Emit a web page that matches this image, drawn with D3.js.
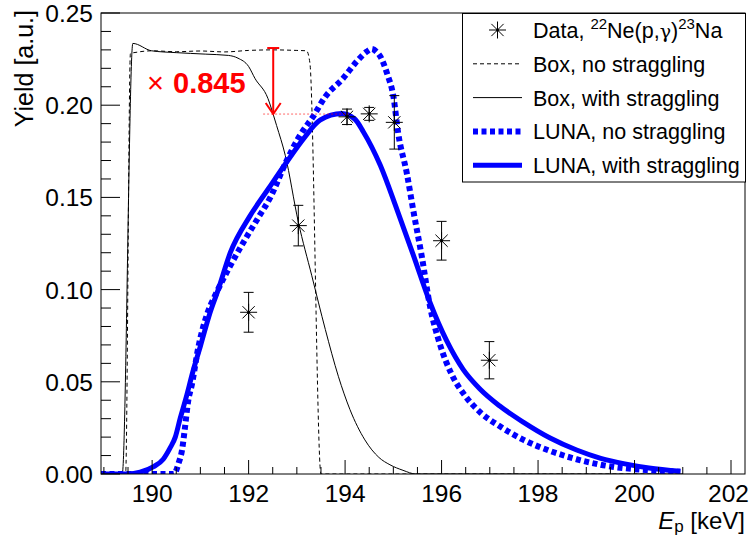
<!DOCTYPE html>
<html>
<head>
<meta charset="utf-8">
<script src="https://cdn.jsdelivr.net/npm/d3@7"></script>
<style>
  html, body { margin: 0; padding: 0; background: #fff; }
  svg { display: block; font-family: "Liberation Sans", Arial, Helvetica, sans-serif; }
</style>
</head>
<body>
<svg id="chart" width="750" height="537"></svg>
<script>
// Measured yield of 22Ne(p,gamma)23Na vs proton energy
const dataE   = [192.0, 193.03, 194.04, 194.5, 195.02, 196.0, 196.99];
const dataY   = [0.0877, 0.1347, 0.1937, 0.1953, 0.1907, 0.1265, 0.0617];
const dataErr = [0.0108, 0.0110, 0.0042, 0.0035, 0.0145, 0.0105, 0.0101];

// Box target profile, no straggling
const boxNoStrE = [188.94, 189.45, 189.55, 189.7, 190.0, 190.5, 191.0, 191.5, 192.0, 192.5, 193.0, 193.2, 193.27, 193.5, 201.0];
const boxNoStrY = [0, 0, 0.2280, 0.2288, 0.2295, 0.2290, 0.2294, 0.2289, 0.2297, 0.2300, 0.2297, 0.2295, 0.2230, 0, 0];

// Box target profile, with straggling
const boxStrE = [188.94, 189.38, 189.60, 189.99, 190.5, 191.10, 191.58, 191.78, 192.0, 192.13, 192.40, 192.51, 192.58, 192.76, 193.03, 193.31, 193.59, 193.86, 194.1, 194.41, 194.7, 194.93, 195.2, 195.47, 201.0];
const boxStrY = [0, 0, 0.2335, 0.2295, 0.2285, 0.2277, 0.2270, 0.2255, 0.2210, 0.2146, 0.2037, 0.1950, 0.1890, 0.1728, 0.1367, 0.1075, 0.0784, 0.0530, 0.0350, 0.0185, 0.0090, 0.0050, 0.0020, 0, 0];

// LUNA target profile, no straggling
const lunaNoStrE = [188.94, 190.45, 190.55, 190.62, 190.68, 190.75, 190.82, 190.96, 191.15, 191.31, 191.6, 191.9, 192.2, 192.45, 192.79, 193.05, 193.34, 193.59, 193.96, 194.24, 194.45, 194.55, 194.65, 194.73, 194.88, 195.0, 195.1, 195.28, 195.42, 195.59, 195.76, 195.97, 196.21, 196.5, 196.8, 197.2, 197.7, 198.25, 198.8, 199.3, 200.3, 200.95];
const lunaNoStrY = [0, 0, 0.006, 0.013, 0.025, 0.040, 0.048, 0.069, 0.0875, 0.097, 0.112, 0.126, 0.139, 0.150, 0.170, 0.183, 0.194, 0.2046, 0.2146, 0.2237, 0.2291, 0.2305, 0.2290, 0.2264, 0.2164, 0.2050, 0.1850, 0.1630, 0.1420, 0.1180, 0.0910, 0.0700, 0.0540, 0.0420, 0.0335, 0.0260, 0.0185, 0.0125, 0.0080, 0.0050, 0.0020, 0.0012];

// LUNA target profile, with straggling
const lunaStrE = [188.94, 189.5, 189.75, 190.03, 190.23, 190.37, 190.48, 190.58, 190.7, 190.85, 191.0, 191.2, 191.37, 191.62, 192.03, 192.41, 192.79, 193.14, 193.48, 193.93, 194.2, 194.38, 194.73, 195.07, 195.42, 195.76, 196.11, 196.45, 196.8, 197.2, 197.7, 198.25, 198.8, 199.3, 199.8, 200.3, 200.95];
const lunaStrY = [0, 0, 0.001, 0.004, 0.008, 0.014, 0.020, 0.030, 0.041, 0.056, 0.0693, 0.0875, 0.100, 0.120, 0.140, 0.1547, 0.1692, 0.1819, 0.1919, 0.1955, 0.1925, 0.1855, 0.1674, 0.1438, 0.1183, 0.0930, 0.0720, 0.0566, 0.0460, 0.0370, 0.0280, 0.0195, 0.0130, 0.0085, 0.0055, 0.0033, 0.0015];

// Scaling annotation
const boxPlateau = 0.231;
const scaleFactor = 0.845;
const arrowE = 192.51;
const guideE = [192.3, 194.07];

const xTicksMajor = [190, 192, 194, 196, 198, 200, 202];
const yTicksMajor = [0, 0.05, 0.10, 0.15, 0.20, 0.25];

const legendLabels = ["Data", "Box, no straggling", "Box, with straggling", "LUNA, no straggling", "LUNA, with straggling"];

const BLUE = "#0000ff", RED = "#ff0000";

const svg = d3.select("#chart");
const x = d3.scaleLinear().domain([188.94, 202.29]).range([101, 745]);
const y = d3.scaleLinear().domain([0, 0.25]).range([474, 13]);

// clip region = frame
svg.append("defs").append("clipPath").attr("id", "frame")
  .append("rect").attr("x", 101).attr("y", 13).attr("width", 644).attr("height", 461);

const plot = svg.append("g").attr("clip-path", "url(#frame)");
const zip = (E, Y) => E.map((e, i) => [e, Y[i]]);
const line = d3.line().x(d => x(d[0])).y(d => y(d[1])).curve(d3.curveMonotoneX);

plot.append("path").datum(zip(boxNoStrE, boxNoStrY)).attr("d", line)
  .attr("fill", "none").attr("stroke", "#000").attr("stroke-width", 1).attr("stroke-dasharray", "4,3");
plot.append("path").datum(zip(boxStrE, boxStrY)).attr("d", line)
  .attr("fill", "none").attr("stroke", "#000").attr("stroke-width", 1);
plot.append("path").datum(zip(lunaNoStrE, lunaNoStrY)).attr("d", line)
  .attr("fill", "none").attr("stroke", BLUE).attr("stroke-width", 6).attr("stroke-dasharray", "5,3.5");
plot.append("path").datum(zip(lunaStrE, lunaStrY)).attr("d", line)
  .attr("fill", "none").attr("stroke", BLUE).attr("stroke-width", 5);

// axes frame and ticks
const axes = svg.append("g").attr("stroke", "#000").attr("fill", "none");
axes.append("rect").attr("x", 101).attr("y", 13).attr("width", 644).attr("height", 461).attr("stroke-width", 1);

const xMinor = d3.range(189, 202.3, 0.5);
xMinor.forEach(v => {
  const major = xTicksMajor.includes(v);
  axes.append("line").attr("x1", x(v)).attr("x2", x(v)).attr("y1", 474).attr("y2", 474 - (major ? 14 : 7));
});
const yMinor = d3.range(0, 0.2501, 0.01);
yMinor.forEach(v => {
  const major = Math.abs(v * 20 - Math.round(v * 20)) < 1e-6;
  axes.append("line").attr("x1", 101).attr("x2", 101 + (major ? 19 : 10)).attr("y1", y(v)).attr("y2", y(v));
});

const labels = svg.append("g").attr("fill", "#000").attr("font-size", 24.5);
xTicksMajor.forEach((v, i) => {
  const last = i === xTicksMajor.length - 1;
  labels.append("text").attr("x", last ? 749 : x(v)).attr("y", 502)
    .attr("text-anchor", last ? "end" : "middle").text(v);
});
yTicksMajor.forEach(v => {
  labels.append("text").attr("x", 93).attr("y", y(v) + 9).attr("text-anchor", "end").text(v.toFixed(2));
});

// axis titles
svg.append("text").attr("transform", "translate(33,10) rotate(-90)").attr("text-anchor", "end")
  .attr("font-size", 25).text("Yield [a.u.]");
const xt = svg.append("text").attr("x", 745).attr("y", 529).attr("text-anchor", "end").attr("font-size", 24);
xt.append("tspan").attr("font-style", "italic").text("E");
xt.append("tspan").attr("font-size", 17).attr("dy", 3).text("p");
xt.append("tspan").attr("dy", -3).text(" [keV]");

// error bars and markers
const pts = svg.append("g").attr("stroke", "#000").attr("stroke-width", 1);
dataE.forEach((e, i) => {
  const cx = x(e), cy = y(dataY[i]);
  const yt = y(dataY[i] + dataErr[i]), yb = y(dataY[i] - dataErr[i]);
  pts.append("line").attr("x1", cx).attr("x2", cx).attr("y1", yt).attr("y2", yb);
  pts.append("line").attr("x1", cx - 5).attr("x2", cx + 5).attr("y1", yt).attr("y2", yt);
  pts.append("line").attr("x1", cx - 5).attr("x2", cx + 5).attr("y1", yb).attr("y2", yb);
});
function star(g, cx, cy, r) {
  const d = r * 0.72;
  g.append("path").attr("d",
    `M${cx - r},${cy}L${cx + r},${cy}M${cx},${cy - r}L${cx},${cy + r}` +
    `M${cx - d},${cy - d}L${cx + d},${cy + d}M${cx - d},${cy + d}L${cx + d},${cy - d}`)
    .attr("stroke", "#000").attr("stroke-width", 1).attr("fill", "none");
  g.append("circle").attr("cx", cx).attr("cy", cy).attr("r", 1.5).attr("fill", "#000").attr("stroke", "none");
}
dataE.forEach((e, i) => star(pts, x(e), y(dataY[i]), 8.5));

// scaling annotation
const ann = svg.append("g");
const yTop = y(boxPlateau), yTip = y(boxPlateau * scaleFactor), ax = x(arrowE);
ann.append("line").attr("x1", x(guideE[0])).attr("x2", x(guideE[1])).attr("y1", yTip).attr("y2", yTip)
  .attr("stroke", RED).attr("stroke-opacity", 0.6).attr("stroke-width", 1).attr("stroke-dasharray", "2,2");
ann.append("line").attr("x1", ax - 6).attr("x2", ax + 6).attr("y1", yTop).attr("y2", yTop)
  .attr("stroke", RED).attr("stroke-width", 2);
ann.append("line").attr("x1", ax).attr("x2", ax).attr("y1", yTop).attr("y2", yTip)
  .attr("stroke", RED).attr("stroke-width", 2);
ann.append("path").attr("d", `M${ax - 7.5},${yTip - 11}L${ax},${yTip}L${ax + 7.5},${yTip - 11}`)
  .attr("stroke", RED).attr("stroke-width", 2).attr("fill", "none");
ann.append("text").attr("x", 147).attr("y", 93).attr("fill", RED).attr("font-size", 29).text("\u00d7");
ann.append("text").attr("x", 173).attr("y", 93).attr("fill", RED).attr("font-size", 29)
  .attr("font-weight", "bold").text(scaleFactor.toFixed(3));

// legend
const lg = svg.append("g");
lg.append("rect").attr("x", 462.5).attr("y", 13.5).attr("width", 283).attr("height", 168.5)
  .attr("fill", "#fff").attr("stroke", "#000").attr("stroke-width", 1);
const rowY = i => 30 + i * 33.8;
const sx0 = 473, sx1 = 522, tx = 533;
star(lg, (sx0 + sx1) / 2, rowY(0), 8.5);
lg.append("line").attr("x1", sx0).attr("x2", sx1).attr("y1", rowY(1)).attr("y2", rowY(1))
  .attr("stroke", "#000").attr("stroke-width", 1).attr("stroke-dasharray", "4,3");
lg.append("line").attr("x1", sx0).attr("x2", sx1).attr("y1", rowY(2)).attr("y2", rowY(2))
  .attr("stroke", "#000").attr("stroke-width", 1);
lg.append("line").attr("x1", sx0).attr("x2", sx1).attr("y1", rowY(3)).attr("y2", rowY(3))
  .attr("stroke", BLUE).attr("stroke-width", 6).attr("stroke-dasharray", "5,3.5");
lg.append("line").attr("x1", sx0).attr("x2", sx1).attr("y1", rowY(4)).attr("y2", rowY(4))
  .attr("stroke", BLUE).attr("stroke-width", 5);

const lt = lg.append("g").attr("font-size", 21.5).attr("fill", "#000");
const t0 = lt.append("text").attr("x", tx).attr("y", rowY(0) + 8);
t0.append("tspan").text(legendLabels[0] + ", ");
t0.append("tspan").attr("font-size", 15).attr("dy", -9).text("22");
t0.append("tspan").attr("dy", 9).text("Ne(p,");
t0.append("tspan").attr("font-family", "DejaVu Serif").attr("font-size", 19).text("\u03b3");
t0.append("tspan").text(")");
t0.append("tspan").attr("font-size", 15).attr("dy", -9).text("23");
t0.append("tspan").attr("dy", 9).text("Na");
for (let i = 1; i < 5; i++) {
  lt.append("text").attr("x", tx).attr("y", rowY(i) + 8).text(legendLabels[i]);
}
</script>
</body>
</html>
